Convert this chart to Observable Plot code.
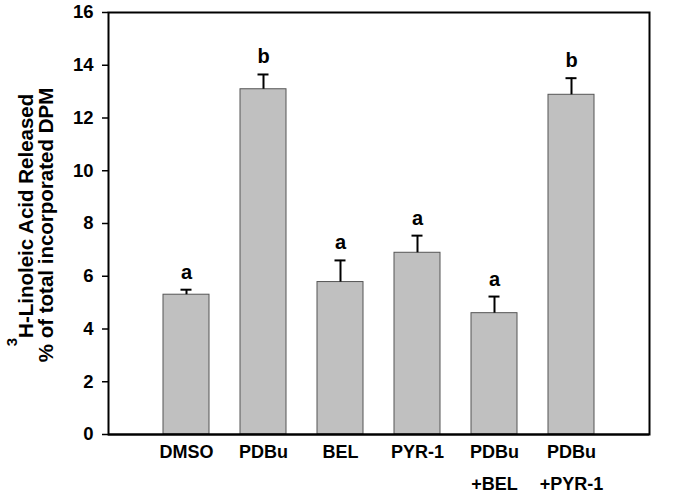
<!DOCTYPE html>
<html>
<head>
<meta charset="utf-8">
<script src="https://cdn.jsdelivr.net/npm/d3@7"></script>
<script src="https://cdn.jsdelivr.net/npm/@observablehq/plot@0.6"></script>
<style>
  html, body { margin: 0; padding: 0; background: #fff; }
  #chart { width: 685px; height: 493px; }
  svg { font-family: "Liberation Sans", Arial, sans-serif; }
</style>
</head>
<body>
<div id="chart"></div>
<script>
const categories = ["DMSO", "PDBu", "BEL", "PYR-1", "PDBu\n+BEL", "PDBu\n+PYR-1"];
const values = [5.30, 13.09, 5.78, 6.89, 4.60, 12.88];
const errors = [0.19, 0.56, 0.82, 0.65, 0.63, 0.63];
const letters = ["a", "b", "a", "a", "a", "b"];
const yTicks = [0, 2, 4, 6, 8, 10, 12, 14, 16];

const data = categories.map((c, i) => ({cat: c, v: values[i], e: errors[i], top: values[i] + errors[i], letter: letters[i]}));

const font = "Liberation Sans, Arial, sans-serif";

const plot = Plot.plot({
  width: 685,
  height: 493,
  marginLeft: 108,
  marginRight: 36,
  marginTop: 12,
  marginBottom: 59,
  style: {fontFamily: font, fontSize: "18px", fontWeight: "bold", color: "#000", background: "#fff"},
  x: {domain: categories, paddingInner: 0.4, paddingOuter: 0.7, label: null},
  y: {domain: [0, 16], label: null},
  marks: [
    Plot.barY(data, {x: "cat", y: "v", fill: "#c0c0c0", stroke: "#555", strokeWidth: 1}),
    Plot.ruleX(data, {x: "cat", y1: "v", y2: "top", stroke: "#000", strokeWidth: 2}),
    Plot.tickY(data, {x: "cat", y: "top", stroke: "#000", strokeWidth: 2, insetLeft: 17.5, insetRight: 17.5}),
    Plot.text(data, {x: "cat", y: "top", text: "letter", dy: -11, lineAnchor: "bottom", fontSize: 20, fontWeight: "bold", fill: "#000"}),
    Plot.axisY({ticks: yTicks, tickSize: 6, tickPadding: 9, fontSize: 18.5, fontWeight: "bold", label: null, stroke: "#000", strokeWidth: 1.5}),
    Plot.axisX({tickSize: 0, tickPadding: 1, fontSize: 18, fontWeight: "bold", lineHeight: 1.76, label: null}),
    Plot.frame({stroke: "#000", strokeWidth: 2, fill: "none"}),
    Plot.ruleY([0], {stroke: "#000", strokeWidth: 2})
  ]
});

const svg = d3.select(plot);
const cy1 = 220, cy2 = 225;
const t1 = svg.append("text")
  .attr("transform", `translate(33,${cy1}) rotate(-90)`)
  .attr("text-anchor", "middle")
  .attr("font-family", font)
  .attr("font-size", 20.5)
  .attr("font-weight", "bold")
  .attr("fill", "#000");
t1.append("tspan").attr("font-size", 15).attr("dy", -16).text("3");
t1.append("tspan").attr("dy", 16).text("H-Linoleic Acid Released");
svg.append("text")
  .attr("transform", `translate(53,${cy2}) rotate(-90)`)
  .attr("text-anchor", "middle")
  .attr("font-family", font)
  .attr("font-size", 20.5)
  .attr("font-weight", "bold")
  .attr("fill", "#000")
  .text("% of total incorporated DPM");

document.getElementById("chart").appendChild(plot);
</script>
</body>
</html>
